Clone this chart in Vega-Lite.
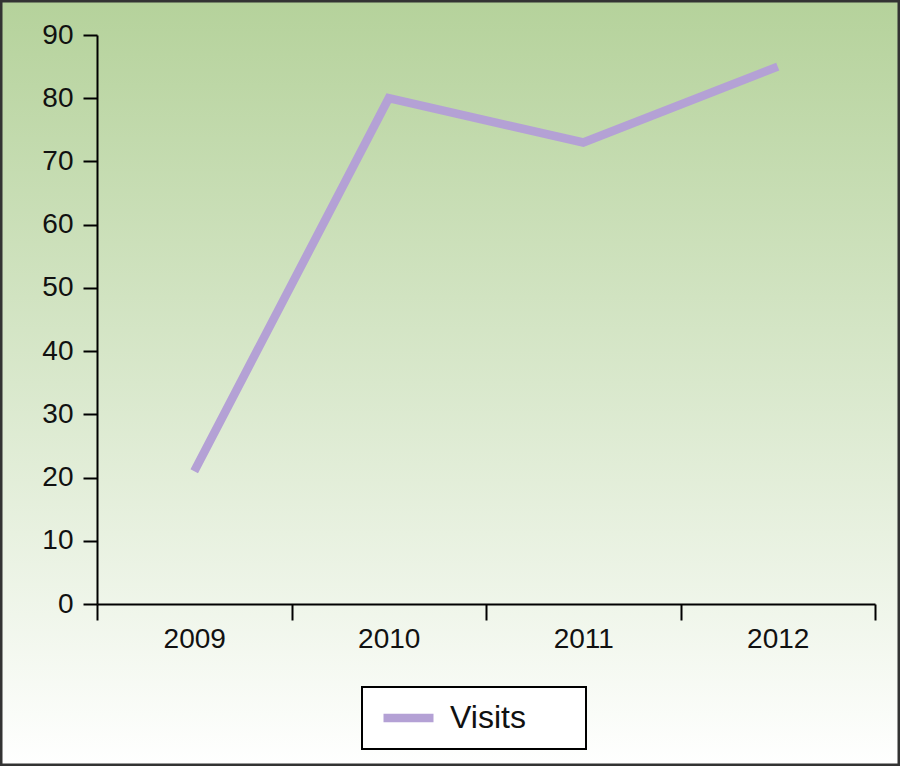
{
  "$schema": "https://vega.github.io/schema/vega-lite/v6.json",
  "width": 900,
  "height": 766,
  "autosize": {"type": "none"},
  "padding": 0,
  "background": "#ffffff",
  "view": {
    "fill": {
      "gradient": "linear",
      "x1": 0, "y1": 0, "x2": 0, "y2": 1,
      "stops": [
        {"offset": 0, "color": "#b5d29b"},
        {"offset": 0.5, "color": "#d9e8cc"},
        {"offset": 1, "color": "#ffffff"}
      ]
    },
    "stroke": "#333333",
    "strokeWidth": 5
  },
  "config": {"font": "Liberation Sans"},
  "data": {
    "values": [
      {"year": "2009", "visits": 21, "series": "Visits"},
      {"year": "2010", "visits": 80, "series": "Visits"},
      {"year": "2011", "visits": 73, "series": "Visits"},
      {"year": "2012", "visits": 85, "series": "Visits"}
    ]
  },
  "mark": {"type": "line", "strokeWidth": 8.5, "strokeCap": "butt", "strokeJoin": "miter"},
  "encoding": {
    "x": {
      "field": "year",
      "type": "ordinal",
      "scale": {"type": "band", "range": [97, 875], "paddingInner": 0, "paddingOuter": 0},
      "axis": {
        "title": null,
        "orient": "bottom",
        "offset": -162,
        "tickBand": "extent",
        "tickSize": 16,
        "tickWidth": 2,
        "tickColor": "#000000",
        "domainColor": "#000000",
        "domainWidth": 2,
        "labelFontSize": 28,
        "labelFont": "Liberation Sans",
        "labelColor": "#111111",
        "labelAngle": 0,
        "labelPadding": 5,
        "grid": false
      }
    },
    "y": {
      "field": "visits",
      "type": "quantitative",
      "scale": {"domain": [0, 90], "range": [604, 35], "nice": false},
      "axis": {
        "title": null,
        "orient": "left",
        "offset": -97,
        "values": [0, 10, 20, 30, 40, 50, 60, 70, 80, 90],
        "tickSize": 14,
        "tickWidth": 2,
        "tickColor": "#000000",
        "domainColor": "#000000",
        "domainWidth": 2,
        "labelFontSize": 28,
        "labelFont": "Liberation Sans",
        "labelColor": "#111111",
        "labelPadding": 10,
        "grid": false
      }
    },
    "color": {
      "field": "series",
      "type": "nominal",
      "scale": {"range": ["#b4a1d5"]},
      "legend": {
        "title": null,
        "orient": "none",
        "legendX": 362,
        "legendY": 687,
        "symbolType": "stroke",
        "symbolSize": 2500,
        "symbolStrokeWidth": 8.5,
        "symbolOffset": 2,
        "clipHeight": 32,
        "labelFontSize": 32,
        "labelFont": "Liberation Sans",
        "labelColor": "#111111",
        "labelOffset": 12,
        "labelExpr": "datum.label + '\u00a0\u00a0\u00a0\u00a0\u00a0\u200b'",
        "padding": 15,
        "strokeColor": "#000000",
        "fillColor": "#ffffff",
        "encode": {"legend": {"update": {"strokeWidth": {"value": 2}}}}
      }
    }
  }
}
